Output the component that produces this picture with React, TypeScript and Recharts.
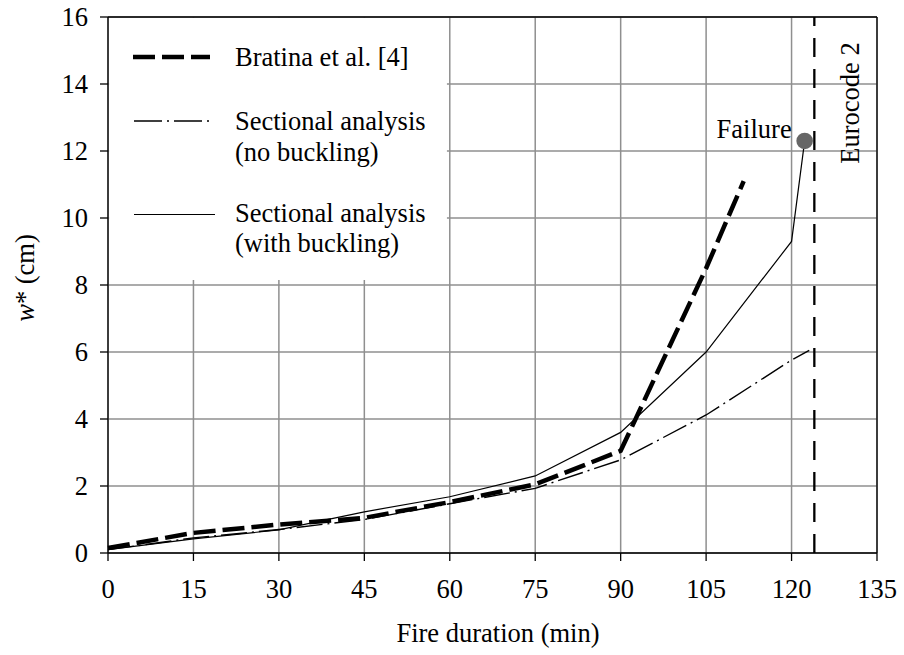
import React from 'react';
import {
  LineChart,
  Line,
  XAxis,
  YAxis,
  CartesianGrid,
  ReferenceLine,
  ReferenceArea,
  ReferenceDot,
} from 'recharts';

const FONT = '"Liberation Serif", "Times New Roman", Times, serif';
const FS = 26.5;

// Axis ticks
const xTicks = [0, 15, 30, 45, 60, 75, 90, 105, 120, 135];
const yTicks = [0, 2, 4, 6, 8, 10, 12, 14, 16];

// Bratina et al. [4]
const bratinaTime = [0, 15, 30, 45, 60, 75, 90, 105, 111.6];
const bratinaW = [0.15, 0.6, 0.85, 1.05, 1.52, 2.05, 3.05, 8.5, 11.1];

// Sectional analysis (no buckling)
const noBuckTime = [0, 15, 30, 45, 60, 75, 90, 105, 120, 123.1];
const noBuckW = [0.1, 0.45, 0.7, 1.0, 1.47, 1.93, 2.78, 4.12, 5.76, 6.05];

// Sectional analysis (with buckling)
const withBuckTime = [0, 15, 30, 37.2, 45, 60, 75, 90, 105, 120, 122.3];
const withBuckW = [0.1, 0.42, 0.69, 0.95, 1.23, 1.68, 2.3, 3.6, 6.0, 9.3, 12.3];

// Legend labels
const legendLabels = [
  ['Bratina et al. [4]'],
  ['Sectional analysis', '(no buckling)'],
  ['Sectional analysis', '(with buckling)'],
];

// Eurocode 2 limit and failure point
const eurocodeTime = 124;
const failureTime = 122.3;
const failureW = 12.3;

const zip = (t: number[], w: number[]) => t.map((x, i) => ({ t: x, w: w[i] }));
const bratinaData = zip(bratinaTime, bratinaW);
const noBuckData = zip(noBuckTime, noBuckW);
const withBuckData = zip(withBuckTime, withBuckW);

const txt = { fontFamily: FONT, fontSize: FS, fill: '#000' };

const LegendBox = () => (
  <g>
    <line x1={133} y1={57} x2={210} y2={57} stroke="#000" strokeWidth={4.5} strokeDasharray="22 7" />
    <text x={235} y={66} style={txt}>{legendLabels[0][0]}</text>
    <line x1={134} y1={121} x2={209} y2={121} stroke="#000" strokeWidth={1.4} strokeDasharray="28 5 2 5" />
    <text x={235} y={130} style={txt}>{legendLabels[1][0]}</text>
    <text x={235} y={160.5} style={txt}>{legendLabels[1][1]}</text>
    <line x1={134} y1={214.5} x2={215} y2={214.5} stroke="#000" strokeWidth={1.2} />
    <text x={235} y={222} style={txt}>{legendLabels[2][0]}</text>
    <text x={235} y={252} style={txt}>{legendLabels[2][1]}</text>
  </g>
);

export default function App() {
  return (
    <div style={{ position: 'absolute', left: 0, top: 0, background: '#fff' }}>
      <LineChart width={904} height={655} margin={{ top: 17, right: 27, bottom: 0, left: 0 }}>
        <CartesianGrid stroke="#8f8f8f" strokeWidth={1.5} />
        <XAxis
          type="number"
          dataKey="t"
          domain={[0, 135]}
          ticks={xTicks}
          height={102}
          interval={0}
          axisLine={{ stroke: '#000', strokeWidth: 1.3 }}
          tickLine={{ stroke: '#000', strokeWidth: 1.3 }}
          tickSize={8}
          tickMargin={18}
          tick={{ fontFamily: FONT, fontSize: FS, fill: '#000' }}
          label={{
            content: (p: any) => {
              const vb = p.viewBox || { x: 108, y: 553, width: 769, height: 102 };
              return (
                <text x={vb.x + vb.width / 2 + 5.5} y={vb.y + 89} textAnchor="middle" style={txt}>
                  Fire duration (min)
                </text>
              );
            },
          }}
        />
        <YAxis
          type="number"
          domain={[0, 16]}
          ticks={yTicks}
          width={108}
          interval={0}
          axisLine={{ stroke: '#000', strokeWidth: 1.3 }}
          tickLine={{ stroke: '#000', strokeWidth: 1.3 }}
          tickSize={8}
          tickMargin={12}
          tick={{ fontFamily: FONT, fontSize: FS, fill: '#000' }}
          label={{
            content: (p: any) => {
              const vb = p.viewBox || { x: 0, y: 17, width: 108, height: 536 };
              const cx = vb.x + 34;
              const cy = vb.y + vb.height / 2 - 7;
              return (
                <text x={cx} y={cy} textAnchor="middle" transform={`rotate(-90, ${cx}, ${cy})`} style={txt}>
                  <tspan fontStyle="italic">w</tspan>
                  <tspan>* (cm)</tspan>
                </text>
              );
            },
          }}
        />
        <ReferenceArea
          x1={0.2}
          x2={59.5}
          y1={8.15}
          y2={15.97}
          fill="#fff"
          fillOpacity={1}
          stroke="none"
          label={{ content: () => <LegendBox /> }}
        />
        <ReferenceLine y={16} stroke="#000" strokeWidth={1.3} />
        <ReferenceLine x={135} stroke="#000" strokeWidth={1.3} />
        <ReferenceLine
          x={eurocodeTime}
          stroke="#000"
          strokeWidth={2.3}
          strokeDasharray="19 12"
          label={{
            content: (p: any) => {
              const vb = p.viewBox || { x: 815, y: 17 };
              const x = vb.x + 45;
              const y = vb.y + 86;
              return (
                <text x={x} y={y} textAnchor="middle" transform={`rotate(-90, ${x}, ${y})`} style={txt}>
                  Eurocode 2
                </text>
              );
            },
          }}
        />
        <Line data={noBuckData} dataKey="w" type="linear" stroke="#000" strokeWidth={1.4} strokeDasharray="26 5 2 5" dot={false} activeDot={false} isAnimationActive={false} />
        <Line data={withBuckData} dataKey="w" type="linear" stroke="#000" strokeWidth={1.2} dot={false} activeDot={false} isAnimationActive={false} />
        <Line data={bratinaData} dataKey="w" type="linear" stroke="#000" strokeWidth={4.5} strokeDasharray="22 7" dot={false} activeDot={false} isAnimationActive={false} />
        <ReferenceDot
          x={failureTime}
          y={failureW}
          r={8.3}
          fill="#666"
          stroke="none"
          label={{
            content: (p: any) => {
              const vb = p.viewBox || { x: 797, y: 132, width: 16.6, height: 16.6 };
              const cx = vb.x + (vb.width || 0) / 2;
              const cy = vb.y + (vb.height || 0) / 2;
              return (
                <text x={cx - 13} y={cy - 3} textAnchor="end" style={txt}>
                  Failure
                </text>
              );
            },
          }}
        />
      </LineChart>
    </div>
  );
}
